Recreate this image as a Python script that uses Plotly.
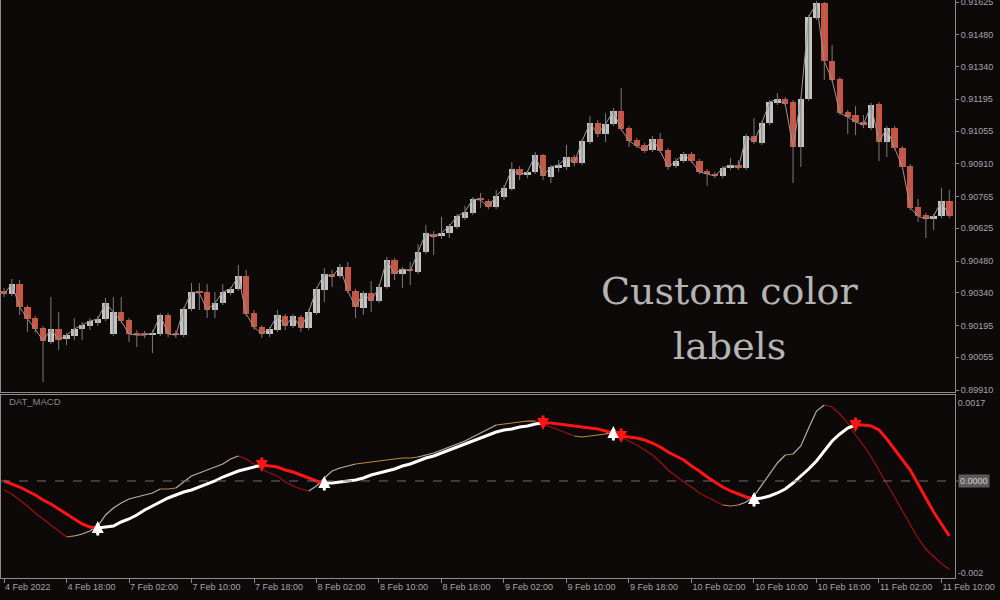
import plotly.graph_objects as go

BG_COLOR = "#0c0908"
FRAME_COLOR = "#8c8c8c"
LABEL_COLOR = "#a2a5ab"
BULL_COLOR = "#c4c4c4"
BEAR_COLOR = "#d4503a"
WICK_COLOR = "#7c7c7c"
CLOSE_LINE_COLOR = "#9a9a9a"
MACD_UP = "#b0b0b0"
MACD_DOWN = "#a01010"
MACD_FLAT = "#c08a3a"
SIGNAL_UP = "#ffffff"
SIGNAL_DOWN = "#ff1414"
FONT = "Liberation Sans"

# EURCHF-like H1 bars, prices in points (1 point = 0.00001)
open_pts = [
    90348, 90334, 90379, 90277, 90228, 90184, 90122, 90180, 90136, 90149,
    90180, 90193, 90206, 90224, 90158, 90255, 90220, 90162, 90162, 90153,
    90158, 90242, 90162, 90153, 90268, 90348, 90343, 90264, 90295, 90339,
    90357, 90414, 90251, 90189, 90158, 90175, 90237, 90193, 90233, 90184,
    90251, 90352, 90423, 90414, 90454, 90348, 90273, 90339, 90304, 90365,
    90485, 90423, 90445, 90432, 90520, 90600, 90591, 90604, 90631, 90670,
    90693, 90759, 90746, 90719, 90763, 90799, 90887, 90861, 90874, 90949,
    90852, 90891, 90896, 90940, 90914, 91006, 91090, 91042, 91086, 91143,
    91068, 91015, 90993, 90971, 91020, 90971, 90900, 90922, 90953, 90922,
    90878, 90865, 90856, 90891, 90905, 90891, 91033, 91002, 91090, 91179,
    91196, 91183, 90984, 91196, 91554, 91621, 91364, 91285, 91139, 91126,
    91095, 91068, 91174, 91006, 91068, 90980, 90900, 90719, 90684, 90666,
    90679, 90746,
]
high_pts = [
    90361, 90401, 90396, 90286, 90237, 90193, 90321, 90255, 90162, 90228,
    90211, 90228, 90237, 90317, 90321, 90321, 90228, 90175, 90171, 90175,
    90251, 90251, 90175, 90277, 90383, 90383, 90379, 90343, 90379, 90365,
    90463, 90441, 90264, 90197, 90189, 90264, 90246, 90246, 90242, 90268,
    90365, 90449, 90441, 90467, 90476, 90357, 90348, 90392, 90379, 90498,
    90494, 90454, 90476, 90555, 90639, 90613, 90675, 90644, 90688, 90724,
    90763, 90781, 90754, 90794, 90816, 90918, 90900, 90883, 90962, 90953,
    90905, 90927, 90993, 90949, 91020, 91121, 91104, 91134, 91157, 91245,
    91077, 91024, 91002, 91033, 91046, 90980, 90936, 90962, 90962, 90931,
    90887, 90874, 90900, 90936, 90927, 91042, 91112, 91099, 91192, 91223,
    91205, 91192, 91205, 91568, 91630, 91625, 91435, 91294, 91148, 91165,
    91126, 91179, 91183, 91077, 91077, 90989, 90909, 90754, 90693, 90688,
    90803, 90794,
]
low_pts = [
    90321, 90326, 90242, 90167, 90163, 89946, 90113, 90087, 90109, 90131,
    90131, 90175, 90193, 90215, 90149, 90206, 90122, 90100, 90140, 90074,
    90149, 90144, 90140, 90144, 90259, 90264, 90228, 90228, 90286, 90330,
    90348, 90237, 90175, 90140, 90144, 90167, 90175, 90184, 90167, 90175,
    90242, 90299, 90365, 90405, 90339, 90228, 90242, 90255, 90295, 90357,
    90396, 90361, 90374, 90423, 90511, 90507, 90578, 90582, 90622, 90662,
    90684, 90715, 90710, 90710, 90750, 90790, 90838, 90847, 90865, 90838,
    90825, 90874, 90883, 90900, 90905, 90997, 91028, 91006, 91077, 91055,
    90984, 90980, 90958, 90962, 90958, 90883, 90891, 90914, 90914, 90865,
    90812, 90847, 90847, 90883, 90883, 90883, 90997, 90993, 91081, 91170,
    91165, 90825, 90896, 91188, 91546, 91280, 91272, 91126, 91042, 91037,
    91068, 91059, 90922, 90940, 90971, 90887, 90706, 90653, 90582, 90617,
    90670, 90670,
]
close_pts = [
    90334, 90379, 90277, 90224, 90180, 90127, 90180, 90131, 90153, 90180,
    90197, 90215, 90224, 90295, 90255, 90215, 90158, 90153, 90153, 90162,
    90242, 90158, 90153, 90268, 90343, 90339, 90264, 90295, 90343, 90357,
    90414, 90246, 90189, 90158, 90180, 90242, 90193, 90237, 90184, 90255,
    90357, 90423, 90410, 90454, 90348, 90277, 90339, 90304, 90365, 90485,
    90423, 90445, 90436, 90520, 90604, 90586, 90604, 90635, 90679, 90697,
    90754, 90750, 90719, 90768, 90803, 90887, 90861, 90874, 90949, 90856,
    90896, 90905, 90940, 90914, 91011, 91090, 91042, 91086, 91143, 91064,
    91011, 90989, 90967, 91020, 90967, 90896, 90922, 90953, 90922, 90874,
    90865, 90856, 90891, 90905, 90891, 91033, 91006, 91090, 91183, 91196,
    91174, 90984, 91196, 91559, 91621, 91364, 91280, 91134, 91117, 91095,
    91081, 91170, 91006, 91068, 90980, 90896, 90715, 90679, 90666, 90679,
    90746, 90679,
]

# DAT_MACD values in units of 0.00001
macd_main = [
    -19.6, -28.3, -41.4, -54.5, -69.7, -82.8, -95.9, -109.0, -122.0, -119.8,
    -115.5, -109.0, -98.1, -74.1, -58.8, -47.9, -39.2, -34.9, -30.5, -26.1,
    -17.4, -17.4, -15.3, -2.2, 10.9, 17.4, 24.0, 30.5, 37.0, 47.9,
    54.5, 47.9, 37.0, 26.1, 17.4, 10.9, -2.2, -10.9, -17.4, -21.8,
    -10.9, 6.5, 21.8, 28.3, 32.7, 37.0, 39.2, 41.4, 43.6, 45.8,
    47.9, 50.1, 50.1, 52.3, 56.7, 61.0, 67.5, 74.1, 80.6, 87.2,
    95.9, 104.6, 113.3, 122.0, 124.2, 126.4, 128.6, 130.7, 130.7, 124.2,
    117.7, 111.1, 104.6, 98.1, 95.9, 98.1, 100.2, 102.4, 106.8, 95.9,
    87.2, 78.4, 67.5, 56.7, 41.4, 24.0, 10.9, -2.2, -13.1, -26.1,
    -34.9, -43.6, -52.3, -54.5, -52.3, -45.8, -32.7, -8.7, 17.4, 39.2,
    56.7, 58.8, 76.3, 115.5, 152.5, 165.6, 161.2, 146.0, 126.4, 100.2,
    78.4, 52.3, 24.0, -4.4, -34.9, -65.4, -95.9, -124.2, -148.2, -165.6,
    -180.9, -191.8,
]
macd_signal = [
    0, -6.5, -13.1, -21.8, -30.5, -41.4, -50.1, -61.0, -71.9, -82.8,
    -93.7, -100.2, -102.4, -100.2, -98.1, -89.3, -82.8, -74.1, -63.2, -54.5,
    -45.8, -37.0, -30.5, -24.0, -19.6, -13.1, -6.5, 0, 8.7, 15.3,
    21.8, 26.1, 30.5, 34.9, 32.7, 30.5, 24.0, 19.6, 13.1, 6.5,
    0, -4.4, -4.4, -2.2, 0, 2.2, 6.5, 13.1, 17.4, 21.8,
    26.1, 32.7, 37.0, 43.6, 50.1, 54.5, 61.0, 67.5, 74.1, 80.6,
    87.2, 93.7, 100.2, 106.8, 111.1, 113.3, 117.7, 119.8, 124.2, 126.4,
    126.4, 124.2, 122.0, 119.8, 117.7, 115.5, 113.3, 109.0, 104.6, 98.1,
    95.9, 93.7, 89.3, 82.8, 74.1, 63.2, 54.5, 45.8, 32.7, 21.8,
    8.7, -2.2, -13.1, -21.8, -28.3, -34.9, -39.2, -37.0, -32.7, -26.1,
    -17.4, -4.4, 10.9, 26.1, 43.6, 65.4, 87.2, 102.4, 115.5, 122.0,
    122.0, 119.8, 111.1, 91.5, 69.7, 45.8, 24.0, -6.5, -37.0, -67.5,
    -93.7, -119.8,
]

time_labels = [
    "4 Feb 2022", "4 Feb 18:00", "7 Feb 02:00", "7 Feb 10:00", "7 Feb 18:00",
    "8 Feb 02:00", "8 Feb 10:00", "8 Feb 18:00", "9 Feb 02:00", "9 Feb 10:00",
    "9 Feb 18:00", "10 Feb 02:00", "10 Feb 10:00", "10 Feb 18:00",
    "11 Feb 02:00", "11 Feb 10:00",
]
bars_per_label = 8
price_ticks = [0.91625, 0.91480, 0.91340, 0.91195, 0.91055, 0.90910, 0.90765,
               0.90625, 0.90480, 0.90340, 0.90195, 0.90055, 0.89910]
macd_ticks = [0.0017, -0.002]


def color_runs(values, colors):
    """Group consecutive segments of one colour into a single broken line."""
    out = {}
    for i in range(len(values) - 1):
        xs, ys = out.setdefault(colors[i], ([], []))
        if xs and xs[-1] == i:
            xs.append(i + 1)
            ys.append(values[i + 1])
        else:
            if xs:
                xs.append(None)
                ys.append(None)
            xs += [i, i + 1]
            ys += [values[i], values[i + 1]]
    return out


n = len(close_pts)
idx = list(range(n))
opens = [p / 1e5 for p in open_pts]
highs = [p / 1e5 for p in high_pts]
lows = [p / 1e5 for p in low_pts]
closes = [p / 1e5 for p in close_pts]
main = [v * 1e-5 for v in macd_main]
signal = [v * 1e-5 for v in macd_signal]

fig = go.Figure()

# close line under the candles
fig.add_trace(go.Scatter(x=idx, y=closes, mode="lines",
                         line=dict(color=CLOSE_LINE_COLOR, width=1),
                         xaxis="x", yaxis="y", hoverinfo="skip"))

wick_x, wick_y = [], []
for i in idx:
    wick_x += [i, i, None]
    wick_y += [lows[i], highs[i], None]
fig.add_trace(go.Scatter(x=wick_x, y=wick_y, mode="lines",
                         line=dict(color=WICK_COLOR, width=1),
                         xaxis="x", yaxis="y", hoverinfo="skip"))

fig.add_trace(go.Bar(
    x=idx,
    y=[max(abs(c - o), 0.00002) for o, c in zip(opens, closes)],
    base=[min(o, c) for o, c in zip(opens, closes)],
    width=0.82,
    marker=dict(color=[BULL_COLOR if c >= o else BEAR_COLOR
                       for o, c in zip(opens, closes)], line_width=0),
    xaxis="x", yaxis="y",
))

# MACD line, coloured by direction
main_colors = []
for i in range(n - 1):
    d = macd_main[i + 1] - macd_main[i]
    main_colors.append(MACD_FLAT if abs(d) < 3 else (MACD_UP if d > 0 else MACD_DOWN))
for color, (xs, ys) in color_runs(main, main_colors).items():
    fig.add_trace(go.Scatter(x=xs, y=ys, mode="lines",
                             line=dict(color=color, width=1.2),
                             xaxis="x2", yaxis="y2"))

# signal line, coloured by crossover state
state = [m > s for m, s in zip(macd_main, macd_signal)]
sig_colors = [SIGNAL_UP if s else SIGNAL_DOWN for s in state]
for color, (xs, ys) in color_runs(signal, sig_colors[:-1]).items():
    fig.add_trace(go.Scatter(x=xs, y=ys, mode="lines",
                             line=dict(color=color, width=3),
                             xaxis="x2", yaxis="y2"))

annotations = []
for i in range(1, n):
    if state[i] != state[i - 1]:
        up = state[i]
        annotations.append(dict(
            x=i, y=signal[i], xref="x2", yref="y2", text="",
            showarrow=True, arrowhead=2, arrowsize=0.8, arrowwidth=3,
            arrowcolor=SIGNAL_UP if up else SIGNAL_DOWN,
            ax=0, ay=16 if up else -16, yshift=7 if up else -7,
        ))

annotations += [
    dict(text="DAT_MACD", xref="paper", yref="paper", x=0.006, y=0.3045,
         xanchor="left", yanchor="middle", showarrow=False,
         font=dict(family=FONT, size=9.5, color="#8a8a8a")),
    dict(text="0.0000", xref="paper", yref="y2", x=1.003, y=0,
         xanchor="left", yanchor="middle", showarrow=False,
         bgcolor="#5a5a5a", borderpad=1,
         font=dict(family=FONT, size=9, color="#cfcfcf")),
    dict(text="Custom color", xref="paper", yref="paper", x=0.764, y=0.4965,
         xanchor="center", yanchor="middle", showarrow=False,
         font=dict(family="DejaVu Serif", size=38, color="#b4b4b4")),
    dict(text="labels", xref="paper", yref="paper", x=0.764, y=0.4014,
         xanchor="center", yanchor="middle", showarrow=False,
         font=dict(family="DejaVu Serif", size=38, color="#b4b4b4")),
]

axis_style = dict(showline=True, mirror=True, linecolor=FRAME_COLOR,
                  linewidth=1, showgrid=False, zeroline=False, automargin=False)
tick_font = dict(family=FONT, size=9, color=LABEL_COLOR)

fig.update_layout(
    width=1000, height=600,
    margin=dict(l=1, r=45, t=0, b=22, autoexpand=False),
    paper_bgcolor=BG_COLOR, plot_bgcolor=BG_COLOR,
    showlegend=False, bargap=0,
    xaxis=dict(domain=[0, 1], anchor="y", range=[-0.384, 121.73],
               showticklabels=False, ticks="", **axis_style),
    xaxis2=dict(domain=[0, 1], anchor="y2", matches="x",
                tickvals=[k * bars_per_label for k in range(len(time_labels))],
                ticktext=time_labels, ticks="outside", ticklen=4,
                tickcolor=FRAME_COLOR, ticklabelposition="outside right",
                ticklabeloverflow="allow",
                tickfont=tick_font, **axis_style),
    yaxis=dict(domain=[0.3218, 1], anchor="x", side="right",
               range=[0.899014, 0.91634], tickvals=price_ticks,
               ticktext=[f"{v:.5f}" for v in price_ticks],
               ticks="outside", ticklen=3, tickcolor=FRAME_COLOR,
               ticklabeloverflow="allow",
               tickfont=tick_font, **axis_style),
    yaxis2=dict(domain=[0, 0.3166], anchor="x2", side="right",
                range=[-0.002114, 0.001874], tickvals=macd_ticks,
                ticktext=["0.0017", "-0.002"], ticklabeloverflow="allow",
                ticks="", tickfont=tick_font, **axis_style),
    shapes=[dict(type="line", xref="paper", yref="y2", x0=0, x1=1.005,
                 y0=0, y1=0, line=dict(color="#6e6e6e", width=1, dash="dash"))],
    annotations=annotations,
)

# the page opens at exactly the figure size, so drop the default body margin
fig.write_html("out.html",
               config={"displayModeBar": False},
               post_script="document.body.style.margin='0';"
                           "document.body.style.overflow='hidden';")
